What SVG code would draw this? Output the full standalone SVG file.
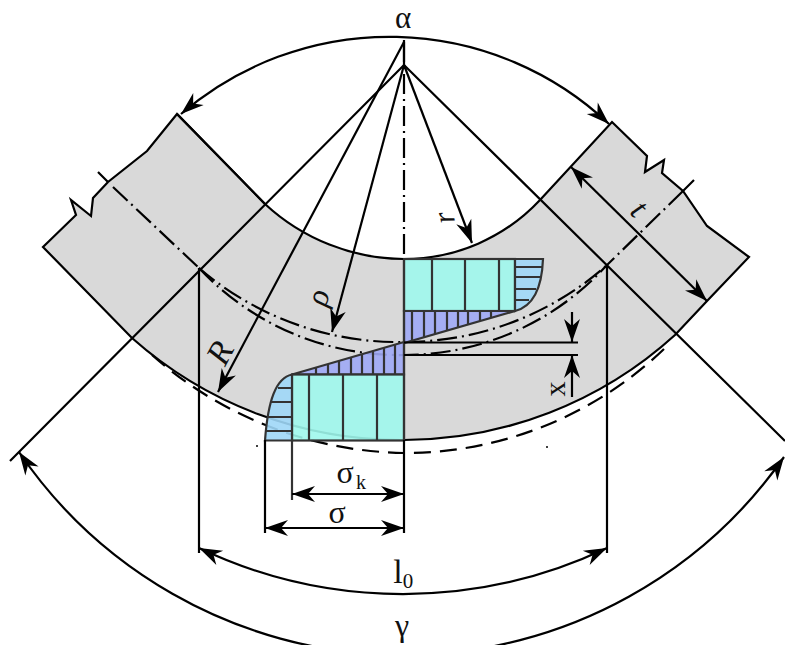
<svg xmlns="http://www.w3.org/2000/svg" width="785" height="645" viewBox="0 0 785 645">
<style>
.t{font-family:"Liberation Serif","Times New Roman",serif;fill:#111}
.i{font-style:italic}
.k{fill:none;stroke:#000;stroke-width:2.2}
.a{marker-end:url(#ah)}
.b{marker-start:url(#ah);marker-end:url(#ah)}
.dd{fill:none;stroke:#000;stroke-width:2.2;stroke-dasharray:20 5 2 5}
.d{fill:none;stroke:#000;stroke-width:2.2;stroke-dasharray:17 9}
.s{stroke:#333;stroke-width:2.2;fill-opacity:.9}
.g{fill:none;stroke:#333;stroke-width:2.2}
</style>
<defs>
<marker id="ah" markerUnits="userSpaceOnUse" markerWidth="28" markerHeight="20" refX="25" refY="10" orient="auto-start-reverse"><path d="M25,10 L2,2 L9,10 L2,18 Z" fill="#000"/></marker>
</defs>
<rect width="785" height="645" fill="#fff"/>
<g id="bar">
<path d="M177,114 L147,151 L108,182 L93,198 L91,216 L71,200 L76,215 L43,247 L132,338 A404,404 0 0 0 404,440 A404,404 0 0 0 675,335 L707,301 L749,257 L707,226 L683,191 L662,173 L664,160 L645,172 L647,156 L612,122 L540,200 A186,186 0 0 1 404,259 A206,206 0 0 1 265,204 Z" fill="#d9d9d9" stroke="#000" stroke-width="2.2" stroke-linejoin="miter"/>
</g>
<g id="connectors">
<path class="d" d="M152,355 A390,390 0 0 0 404,453 A375,375 0 0 0 664,349"/>
<path class="dd" d="M199,268 A306,306 0 0 0 404,342 A306,306 0 0 0 606,266"/>
<path class="dd" d="M199,268 A274,274 0 0 0 404,355 A274,274 0 0 0 606,266"/>
<path class="dd" d="M113,187 L199,268"/>
<path class="dd" d="M683,191 L606,266"/>
<path class="k" d="M98,172 L108,182 M694,180 L683,191"/>
<path class="dd" d="M404,42 L404,259"/>
</g>
<g id="stress">
<rect class="s" x="404" y="259" width="111" height="52" fill="#9ef7ec"/>
<path class="s" d="M515,259 H543 C542,285 535,306 515,311 Z" fill="#9fd7f7"/>
<path class="s" d="M404,311 H515 L404,343 Z" fill="#9fa8f5"/>
<path class="s" d="M404,342 L292,374.500 H404 Z" fill="#9fa8f5"/>
<rect class="s" x="292" y="374.500" width="112" height="66" fill="#9ef7ec"/>
<path class="s" d="M292,374.500 C276,378 268,400 265,440.500 H292 Z" fill="#9fd7f7"/>
<path class="g" d="M432,259 V311 M465,259 V311 M499,259 V311 M309,375 V440 M343,375 V440 M377,375 V440"/>
<path class="g" d="M516,267 H542 M516,277 H540 M516,289 H536 M516,300 H529 M278,388 H292 M271,402 H292 M268,417 H292 M266,431 H292"/>
<path class="g" d="M412,311 V340 M424,311 V337 M435,311 V334 M447,311 V330 M458,311 V327 M468,311 V324 M480,311 V321 M491,311 V318 M316,374 V368 M328,374 V364 M339,374 V361 M351,374 V358 M362,374 V354 M373,374 V351 M384,374 V348 M395,374 V345"/>
<path class="g" d="M404,259 V440"/>
</g>
<g id="lines">
<path class="k" d="M10,461 L404,65 L785,441"/>
<path class="k" d="M265,204 L177,114"/>
<path class="k a" d="M404,42 L218,392"/>
<path class="k a" d="M404,65 L332,332"/>
<path class="k a" d="M404,65 L472,243"/>
<path class="k" d="M404,40 V66"/>
<path class="k b" d="M571,167 L707,301"/>
<path class="k b" d="M181,114 A320,320 0 0 1 609,124"/>
<path class="k b" d="M199,548 A475,475 0 0 0 607,548"/>
<path class="k b" d="M19,452 A465,465 0 0 0 784,457"/>
<path class="k" d="M199,268 V553 M607,266 V553"/>
<path class="k" d="M404,342.500 H578 M404,355 H578"/>
<path class="k a" d="M572,312 V342"/>
<path class="k a" d="M572,397 V355"/>
<path class="k" d="M265,440 V533 M404,440 V533"/>
<path class="g" d="M292,440 V500"/>
<path class="k b" d="M265,528 H404"/>
<path class="k b" d="M292,494 H404"/>
<circle cx="257" cy="446" r="1" fill="#000"/>
<circle cx="547" cy="447" r="1" fill="#000"/>
</g>
<g id="labels">
<text class="t" x="403" y="28" font-size="31" text-anchor="middle">α</text>
<text class="t" x="402" y="636" font-size="32" text-anchor="middle">γ</text>
<text class="t" x="337" y="523" font-size="32" text-anchor="middle">σ</text>
<text class="t" x="345" y="483" font-size="32" text-anchor="middle">σ</text>
<text class="t" x="361" y="489" font-size="20" text-anchor="middle">k</text>
<text class="t" x="398" y="583" font-size="34" text-anchor="middle">l</text>
<text class="t" x="408" y="588" font-size="21" text-anchor="middle">0</text>
<text class="t i" font-size="34" text-anchor="middle" transform="translate(230,358) rotate(-62)">R</text>
<text class="t i" font-size="32" text-anchor="middle" transform="translate(328,300) rotate(-75)">ρ</text>
<text class="t i" font-size="30" text-anchor="middle" transform="translate(454,216) rotate(-101)">r</text>
<text class="t i" font-size="32" text-anchor="middle" transform="translate(632,216) rotate(45)">t</text>
<text class="t" font-size="30" text-anchor="middle" transform="translate(565,389) rotate(-90)">x</text>
</g>
</svg>
